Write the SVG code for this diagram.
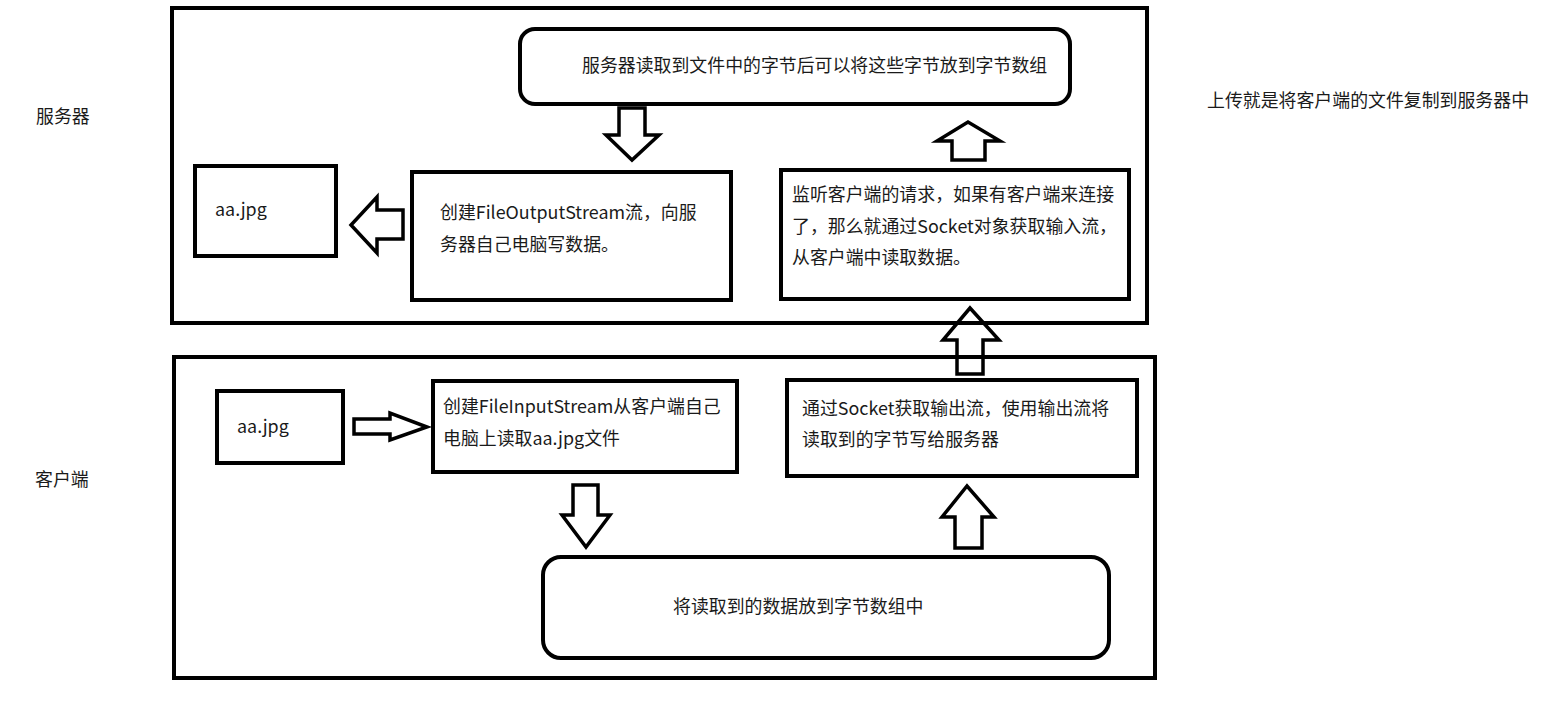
<svg xmlns="http://www.w3.org/2000/svg" width="1545" height="713" viewBox="0 0 1545 713">
<style>
.box{fill:none;stroke:#000;stroke-width:4}
.frame{fill:none;stroke:#000;stroke-width:4}
.arr{fill:none;stroke:#000;stroke-width:3.5;stroke-linejoin:miter}
text{font-family:"Noto Sans CJK SC","Noto Sans",sans-serif;font-size:17.9px;fill:#1a1a1a}
</style>
<rect width="1545" height="713" fill="#fff"/>
<g id="labels">
<text x="36" y="123">服务器</text>
<text x="35" y="486">客户端</text>
<text x="1207" y="107">上传就是将客户端的文件复制到服务器中</text>
</g>
<g id="server-frame"><rect class="frame" x="172" y="8" width="975" height="315"/></g>
<g id="client-frame"><rect class="frame" x="174" y="357" width="981" height="321"/></g>
<g id="connectors">
<polygon class="arr" points="619,108 645,108 645,135 659,135 632,160 606,135 619,135"/>
<polygon class="arr" points="403,210 377,210 377,197 351,225 377,253 377,239 403,239"/>
<polygon class="arr" points="952,160 952,141 937,141 968,122 1000,141 985,141 985,160"/>
<polygon class="arr" points="957,374 957,340 943,340 970,308 999,340 983,340 983,374"/>
<polygon class="arr" points="354,419 390,419 390,413 427,427 390,440 390,434 354,434"/>
<polygon class="arr" points="573,485 598,485 598,515 610,515 586,547 562,515 573,515"/>
<polygon class="arr" points="955,548 955,517 942,517 967,486 994,517 982,517 982,548"/>
</g>
<g id="server-buffer"><rect class="box" x="520" y="29" width="550" height="75" rx="15"/>
<text x="582" y="72">服务器读取到文件中的字节后可以将这些字节放到字节数组</text></g>
<g id="server-fos"><rect class="box" x="412" y="172" width="319" height="128"/>
<text x="440" y="219">创建FileOutputStream流，向服</text>
<text x="440" y="251">务器自己电脑写数据。</text></g>
<g id="server-file"><rect class="box" x="195" y="166" width="141" height="90"/>
<text x="215" y="216">aa.jpg</text></g>
<g id="server-listen"><rect class="box" x="781" y="170" width="348" height="129"/>
<text x="792" y="201">监听客户端的请求，如果有客户端来连接</text>
<text x="792" y="233">了，那么就通过Socket对象获取输入流，</text>
<text x="792" y="264">从客户端中读取数据。</text></g>
<g id="client-file"><rect class="box" x="217" y="391" width="126" height="72"/>
<text x="237" y="433">aa.jpg</text></g>
<g id="client-fis"><rect class="box" x="433" y="381" width="304" height="91"/>
<text x="443" y="413">创建FileInputStream从客户端自己</text>
<text x="443" y="445">电脑上读取aa.jpg文件</text></g>
<g id="client-socket"><rect class="box" x="787" y="380" width="350" height="96"/>
<text x="802" y="415">通过Socket获取输出流，使用输出流将</text>
<text x="802" y="446">读取到的字节写给服务器</text></g>
<g id="client-buffer"><rect class="box" x="543" y="557" width="566" height="101" rx="18"/>
<text x="673" y="613">将读取到的数据放到字节数组中</text></g>
</svg>
